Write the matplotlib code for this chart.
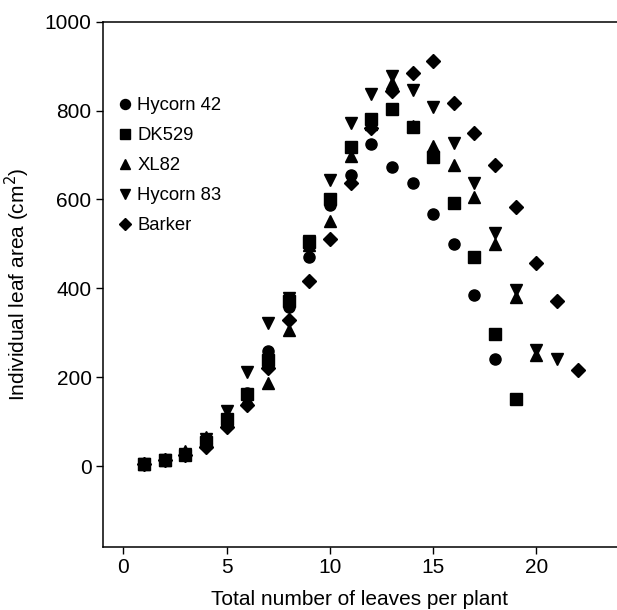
import numpy as np
import matplotlib
matplotlib.use("Agg")
import matplotlib.pyplot as plt

plt.rcParams['font.family'] = ['Liberation Sans', 'DejaVu Sans']

# leaf area per leaf position for five maize hybrids
hycorn42 = [4, 13, 27, 52, 95, 165, 258, 358, 471, 588, 655, 725, 673, 636,
            567, 500, 385, 240]
dk529 = [4, 13, 25, 55, 107, 162, 238, 372, 505, 600, 717, 780, 803, 762,
         696, 591, 471, 297, 150]
xl82 = [5, 14, 35, 66, 100, 150, 186, 306, 498, 552, 698, 770, 862, 765,
        720, 677, 605, 499, 380, 250]
hycorn83 = [5, 13, 28, 60, 124, 212, 322, 378, 507, 644, 773, 837, 878, 846,
            807, 728, 638, 524, 396, 261, 242]
barker = [4, 13, 25, 43, 88, 137, 220, 329, 416, 510, 636, 760, 843, 884,
          912, 816, 749, 677, 584, 458, 372, 216]

series = [("Hycorn 42", hycorn42, "o"),
          ("DK529", dk529, "s"),
          ("XL82", xl82, "^"),
          ("Hycorn 83", hycorn83, "v"),
          ("Barker", barker, "D")]

fig = plt.figure(figsize=(6.17, 6.10), dpi=100)
ax = fig.add_axes([0.1665, 0.1033, 0.8335, 0.8611])

for name, vals, mk in series:
    x = np.arange(1, len(vals) + 1)
    ms = 7 if mk == "D" else 8
    ax.plot(x, vals, linestyle="none", marker=mk, color="black",
            markersize=ms, label=name)

ax.set_xlim(-1, 23.9)
ax.set_ylim(-182, 1000)
ax.set_xticks([0, 5, 10, 15, 20])
ax.set_yticks([0, 200, 400, 600, 800, 1000])

ax.spines['right'].set_visible(False)
for s in ['left', 'bottom', 'top']:
    ax.spines[s].set_linewidth(1.1)
ax.tick_params(direction="out", length=5, width=1, labelsize=15, pad=3)

ax.set_xlabel("Total number of leaves per plant", fontsize=15, labelpad=9)
ax.set_ylabel("Individual leaf area (cm$^2$)", fontsize=15, labelpad=9)

ax.legend(loc="upper left", bbox_to_anchor=(0.015, 0.87), frameon=False,
          fontsize=13.3, handlelength=0.8, handletextpad=0.25,
          labelspacing=0.7, borderaxespad=0, markerscale=0.9)

fig.savefig("out.png", dpi=100)
